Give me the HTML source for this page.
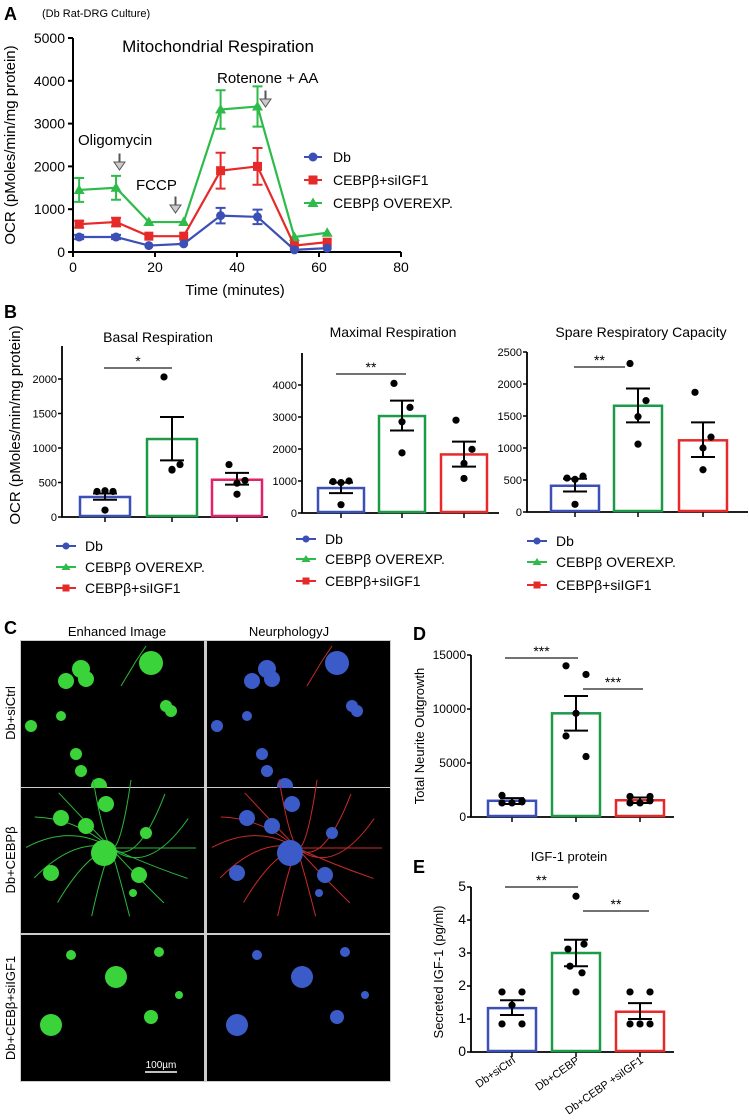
<!DOCTYPE html>
<html><head><meta charset="utf-8"><style>
html,body{margin:0;padding:0;background:#fff;width:749px;height:1120px;overflow:hidden}
svg{display:block;font-family:"Liberation Sans",sans-serif}
</style></head><body>
<svg id="fig" width="749" height="1120" viewBox="0 0 749 1120" xmlns="http://www.w3.org/2000/svg">
<g>
<text x="4" y="20" font-size="18" font-weight="bold">A</text>
<text x="42" y="17" font-size="11">(Db Rat-DRG Culture)</text>
<text x="218" y="52" font-size="17" text-anchor="middle">Mitochondrial Respiration</text>
<text x="15" y="145" font-size="15" text-anchor="middle" transform="rotate(-90 15 145)">OCR (pMoles/min/mg protein)</text>
<text x="235" y="295" font-size="15" text-anchor="middle">Time (minutes)</text>
<text x="78" y="145" font-size="15">Oligomycin</text>
<text x="136" y="190" font-size="15">FCCP</text>
<text x="217" y="83" font-size="15">Rotenone + AA</text>
<path d="M119 154v8h-5l5.5 8 5.5-8h-5v-8z" fill="#ccc" stroke="#555" stroke-width="1"/>
<path d="M175 197v8h-5l5.5 8 5.5-8h-5v-8z" fill="#ccc" stroke="#555" stroke-width="1"/>
<path d="M265 91v8h-5l5.5 8 5.5-8h-5v-8z" fill="#ccc" stroke="#555" stroke-width="1"/>
</g>
<g>
<text x="4" y="318" font-size="18" font-weight="bold">B</text>
<text x="20" y="425" font-size="15" text-anchor="middle" transform="rotate(-90 20 425)">OCR (pMoles/min/mg protein)</text>
</g>
<g>
<text x="4" y="634" font-size="18" font-weight="bold">C</text>
<text x="117" y="636" font-size="13" text-anchor="middle">Enhanced Image</text>
<text x="289" y="636" font-size="13" text-anchor="middle">NeurphologyJ</text>
<text x="15" y="713" font-size="13" text-anchor="middle" transform="rotate(-90 15 713)">Db+siCtrl</text>
<text x="15" y="860" font-size="13" text-anchor="middle" transform="rotate(-90 15 860)">Db+CEBPβ</text>
<text x="15" y="1008" font-size="13" text-anchor="middle" transform="rotate(-90 15 1008)">Db+CEBβ+siIGF1</text>
<rect x="20" y="640" width="371" height="442" fill="#ccc"/>
<g id="micro"></g>
</g>
<g>
<text x="413" y="640" font-size="18" font-weight="bold">D</text>
<text x="424" y="736" font-size="13" text-anchor="middle" transform="rotate(-90 424 736)">Total Neurite Outgrowth</text>
<text x="413" y="873" font-size="18" font-weight="bold">E</text>
<text x="569" y="861" font-size="13" text-anchor="middle">IGF-1 protein</text>
<text x="443" y="972" font-size="13" text-anchor="middle" transform="rotate(-90 443 972)">Secreted IGF-1 (pg/ml)</text>
</g>
</svg>
<script>
// ---- Panel A data ----
var timePoints = [1.5, 10.5, 18.5, 27, 36, 45, 54, 62];
var dbOCR = [350, 350, 150, 190, 850, 820, 50, 90];
var dbErr = [50, 50, 0, 0, 180, 170, 0, 0];
var siOCR = [650, 700, 370, 370, 1900, 2000, 150, 230];
var siErr = [80, 100, 0, 0, 420, 430, 0, 0];
var overOCR = [1450, 1500, 700, 700, 3330, 3400, 350, 450];
var overErr = [280, 280, 0, 0, 450, 470, 0, 0];
var aXTicks = [0, 20, 40, 60, 80];
var aYTicks = [0, 1000, 2000, 3000, 4000, 5000];
var aLegend = ["Db", "CEBPβ+siIGF1", "CEBPβ OVEREXP."];
// ---- Panel B data ----
var basalMeans = [290, 1130, 540];
var basalErrLo = [250, 820, 470];
var basalErrHi = [340, 1450, 640];
var basalPts = [[370, 370, 380, 100], [2030, 760, 680, 690], [760, 530, 490, 330]];
var maxMeans = [780, 3030, 1830];
var maxErrLo = [620, 2580, 1450];
var maxErrHi = [950, 3510, 2230];
var maxPts = [[980, 1000, 950, 260], [4050, 3300, 2850, 1880], [2900, 1990, 1550, 1080]];
var spareMeans = [410, 1660, 1120];
var spareErrLo = [320, 1400, 860];
var spareErrHi = [520, 1930, 1400];
var sparePts = [[530, 560, 510, 120], [2320, 1740, 1490, 1060], [1870, 1170, 1000, 660]];
var bLegend = ["Db", "CEBPβ OVEREXP.", "CEBPβ+siIGF1"];
// ---- Panel D data ----
var neuriteMeans = [1500, 9600, 1550];
var neuriteErrLo = [1200, 8000, 1300];
var neuriteErrHi = [1750, 11200, 1800];
var neuritePts = [[2000, 1500, 1300, 1300, 1400], [14000, 13200, 9600, 7500, 5600], [1900, 1500, 1300, 1300, 1900]];
// ---- Panel E data ----
var igfMeans = [1.33, 3.0, 1.22];
var igfErrLo = [1.12, 2.6, 1.0];
var igfErrHi = [1.57, 3.4, 1.48];
var igfPts = [[1.82, 1.82, 1.42, 0.85, 0.85], [4.72, 3.27, 3.12, 2.6, 2.4, 1.82], [1.82, 1.82, 0.85, 0.85, 0.85]];
var groupLabels = ["Db+siCtrl", "Db+CEBP", "Db+CEBP +siIGF1"];

var NS = "http://www.w3.org/2000/svg";
var svg = document.getElementById("fig");
function mk(tag, attrs, parent) {
  var e = document.createElementNS(NS, tag);
  for (var k in attrs) e.setAttribute(k, attrs[k]);
  (parent || svg).appendChild(e);
  return e;
}
var BLUE = "#3b4fb5", RED = "#e62a2a", GREEN = "#1d9a48", PINK = "#e3216b", LGREEN = "#2dbb4a";

// ---------- Panel A ----------
(function () {
  var g = mk("g", {});
  
  
  var X0 = 73, XS = 4.1, Y0 = 252, YS = 214 / 5000;
  function sx(v) { return X0 + v * XS; }
  function sy(v) { return Y0 - v * YS; }
  var ax = mk("path", { d: "M" + X0 + " " + sy(5000) + "V" + Y0 + "H" + sx(80), stroke: "#000", "stroke-width": 2, fill: "none" }, g);
  
  
  aXTicks.forEach(function (t) {
    var l = mk("line", { x1: sx(t), x2: sx(t), y1: Y0, y2: Y0 + 5, stroke: "#000", "stroke-width": 2 }, g);
    
    
    var tx = mk("text", { x: sx(t), y: Y0 + 20, "font-size": 14, "text-anchor": "middle" }, g);
    tx.textContent = t;
    
    
  });
  aYTicks.forEach(function (t) {
    var l = mk("line", { x1: X0 - 5, x2: X0, y1: sy(t), y2: sy(t), stroke: "#000", "stroke-width": 2 }, g);
    
    
    var tx = mk("text", { x: X0 - 8, y: sy(t) + 5, "font-size": 14, "text-anchor": "end" }, g);
    tx.textContent = t;
    
    
  });
  function marker(shape, x, y, col, parent) {
    var m;
    if (shape === "c") m = mk("circle", { cx: x, cy: y, r: 4.5, fill: col }, parent);
    else if (shape === "s") m = mk("rect", { x: x - 4.5, y: y - 4.5, width: 9, height: 9, fill: col }, parent);
    else m = mk("path", { d: "M" + x + " " + (y - 5.5) + "L" + (x + 5.5) + " " + (y + 4) + "L" + (x - 5.5) + " " + (y + 4) + "Z", fill: col }, parent);
    return m;
  }
  var series = [[overOCR, overErr, LGREEN, "t", "series-cebpb-overexp"], [siOCR, siErr, RED, "s", "series-cebpb-siigf1"], [dbOCR, dbErr, BLUE, "c", "series-db"]];
  series.forEach(function (s) {
    var sg = mk("g", {}, g);
    
    
    var d = s[0].map(function (v, i) { return (i ? "L" : "M") + sx(timePoints[i]) + " " + sy(v); }).join("");
    var ln = mk("path", { d: d, stroke: s[2], "stroke-width": 2.2, fill: "none" }, sg);
    
    
    s[0].forEach(function (v, i) {
      var x = sx(timePoints[i]);
      if (s[1][i] > 0) {
        var e = mk("path", { d: "M" + x + " " + sy(v - s[1][i]) + "V" + sy(v + s[1][i]) + "M" + (x - 5) + " " + sy(v - s[1][i]) + "h10M" + (x - 5) + " " + sy(v + s[1][i]) + "h10", stroke: s[2], "stroke-width": 2, fill: "none" }, sg);
        
        
      }
      var m = marker(s[3], x, sy(v), s[2], sg);
      
      
    });
  });
  var lcols = [BLUE, RED, LGREEN], lsh = ["c", "s", "t"];
  aLegend.forEach(function (name, i) {
    var y = 157 + i * 23;
    var lg = mk("g", {}, g);
    
    
    mk("line", { x1: 304, x2: 322, y1: y, y2: y, stroke: lcols[i], "stroke-width": 2 }, lg);
    marker(lsh[i], 313, y, lcols[i], lg);
    var t = mk("text", { x: 333, y: y + 5, "font-size": 14 }, lg);
    t.textContent = name;
  });
})();

// ---------- Generic bar chart ----------
function barChart(cfg) {
  var g = mk("g", {});
  
  
  function sy(v) { return cfg.y0 - v * cfg.ys; }
  var ax = mk("path", { d: "M" + cfg.x0 + " " + cfg.top + "V" + cfg.y0 + "H" + cfg.xEnd, stroke: "#000", "stroke-width": 1.8, fill: "none" }, g);
  
  
  cfg.ticks.forEach(function (t) {
    var l = mk("line", { x1: cfg.x0 - 4, x2: cfg.x0, y1: sy(t), y2: sy(t), stroke: "#000", "stroke-width": 1.5 }, g);
    
    
    var tx = mk("text", { x: cfg.x0 - 5, y: sy(t) + 4, "font-size": cfg.fs, "text-anchor": "end" }, g);
    tx.textContent = t;
    
    
  });
  cfg.means.forEach(function (m, i) {
    var cx = cfg.centers[i], col = cfg.colors[i];
    var tk = mk("line", { x1: cx, x2: cx, y1: cfg.y0, y2: cfg.y0 + 5, stroke: "#000", "stroke-width": 1.5 }, g);
    
    
    var b = mk("rect", { x: cx - cfg.hw, y: sy(m), width: cfg.hw * 2, height: cfg.y0 - sy(m) - 1, fill: "none", stroke: col, "stroke-width": 2.5 }, g);
    
    
    var e = mk("path", { d: "M" + cx + " " + sy(cfg.lo[i]) + "V" + sy(cfg.hi[i]) + "M" + (cx - 12) + " " + sy(cfg.lo[i]) + "h24M" + (cx - 12) + " " + sy(cfg.hi[i]) + "h24", stroke: "#000", "stroke-width": 2, fill: "none" }, g);
    
    
    var pts = cfg.pts[i], n = pts.length;
    pts.forEach(function (v, j) {
      var off = n === 4 ? [-8, 8, 0, 0][j] : (n === 5 ? [-10, 10, 0, -10, 10][j] : [0, 8, -8, -6, 6, 0][j]);
      var p = mk("circle", { cx: cx + off, cy: sy(v), r: 3.6, fill: "#000" }, g);
      
      
    });
  });
  (cfg.sig || []).forEach(function (s) {
    var l = mk("line", { x1: s[0], x2: s[1], y1: s[2], y2: s[2], stroke: "#444", "stroke-width": 1.5 }, g);
    
    
    var t = mk("text", { x: (s[0] + s[1]) / 2, y: s[2] - 2, "font-size": 14, "text-anchor": "middle" }, g);
    t.textContent = s[3];
    
    
  });
  if (cfg.title) {
    var tt = mk("text", { x: cfg.title[1], y: cfg.title[2], "font-size": 14, "text-anchor": "middle" }, g);
    tt.textContent = cfg.title[0];
    
    
  }
  if (cfg.legend) {
    var lc = [BLUE, LGREEN, RED], ls = ["c", "t", "s"];
    cfg.legend.names.forEach(function (nm, i) {
      var y = cfg.legend.ys[i], x = cfg.legend.x;
      var lg = mk("g", {}, g);
      
      
      mk("line", { x1: x, x2: x + 20, y1: y, y2: y, stroke: lc[i], "stroke-width": 2 }, lg);
      if (ls[i] === "c") mk("circle", { cx: x + 10, cy: y, r: 3.5, fill: lc[i] }, lg);
      else if (ls[i] === "s") mk("rect", { x: x + 6.5, y: y - 3.5, width: 7, height: 7, fill: lc[i] }, lg);
      else mk("path", { d: "M" + (x + 10) + " " + (y - 4) + "l4.5 7h-9z", fill: lc[i] }, lg);
      var t = mk("text", { x: x + 29, y: y + 5, "font-size": 14 }, lg);
      t.textContent = nm;
    });
  }
  return g;
}

barChart({ name: "basal-respiration-chart", x0: 62, y0: 517, ys: 0.069, top: 346, xEnd: 268, centers: [105, 172, 237], hw: 25,
  ticks: [0, 500, 1000, 1500, 2000], fs: 11, means: basalMeans, lo: basalErrLo, hi: basalErrHi, pts: basalPts,
  colors: [BLUE, GREEN, PINK], sig: [[104, 172, 368, "*"]], title: ["Basal Respiration", 158, 342],
  legend: { x: 56, ys: [546, 567, 588], names: bLegend } });
barChart({ name: "maximal-respiration-chart", x0: 302, y0: 513, ys: 0.032, top: 353, xEnd: 499, centers: [341, 402, 464], hw: 23,
  ticks: [0, 1000, 2000, 3000, 4000], fs: 11, means: maxMeans, lo: maxErrLo, hi: maxErrHi, pts: maxPts,
  colors: [BLUE, GREEN, RED], sig: [[336, 406, 374, "**"]], title: ["Maximal Respiration", 393, 337],
  legend: { x: 296, ys: [539, 559, 581], names: bLegend } });
barChart({ name: "spare-capacity-chart", x0: 527, y0: 512, ys: 0.064, top: 352, xEnd: 748, centers: [575, 638, 703], hw: 24,
  ticks: [0, 500, 1000, 1500, 2000, 2500], fs: 11, means: spareMeans, lo: spareErrLo, hi: spareErrHi, pts: sparePts,
  colors: [BLUE, GREEN, RED], sig: [[574, 625, 367, "**"]], title: ["Spare Respiratory Capacity", 641, 337],
  legend: { x: 527, ys: [541, 562, 585], names: bLegend } });
barChart({ name: "neurite-outgrowth-chart", x0: 471, y0: 817, ys: 0.0108, top: 655, xEnd: 674, centers: [512, 576, 640], hw: 24,
  ticks: [0, 5000, 10000, 15000], fs: 12, means: neuriteMeans, lo: neuriteErrLo, hi: neuriteErrHi, pts: neuritePts,
  colors: [BLUE, GREEN, RED], sig: [[505, 578, 658, "***"], [583, 643, 689, "***"]] });
var eg = barChart({ name: "igf1-protein-chart", x0: 471, y0: 1052, ys: 33, top: 887, xEnd: 674, centers: [512, 576, 640], hw: 24,
  ticks: [0, 1, 2, 3, 4, 5], fs: 14, means: igfMeans, lo: igfErrLo, hi: igfErrHi, pts: igfPts,
  colors: [BLUE, GREEN, RED], sig: [[505, 578, 887, "**"], [583, 649, 911, "**"]] });
[512, 576, 640].forEach(function (cx, i) {
  var t = mk("text", { x: cx + 4, y: 1062, "font-size": 11, "text-anchor": "end", transform: "rotate(-35 " + (cx + 4) + " 1062)" }, eg);
  t.textContent = groupLabels[i];
  
  
});

// ---------- Micrographs (decorative) ----------
(function () {
  var mg = document.getElementById("micro");
  var cols = [[21, 183], [207, 183]], rows = [[641, 146], [788, 145], [935, 146]];
  var cells = [
    [[130, 22, 12], [60, 28, 9], [65, 38, 8], [45, 40, 8], [145, 65, 6], [10, 85, 6], [55, 113, 6], [60, 130, 6], [78, 145, 8], [150, 70, 6], [40, 75, 5]],
    [[40, 30, 8], [30, 85, 8], [83, 65, 13], [65, 38, 8], [85, 16, 8], [125, 45, 6], [118, 87, 8], [112, 105, 4]],
    [[50, 20, 5], [95, 42, 11], [30, 90, 11], [130, 82, 7], [138, 17, 5], [158, 60, 4]]
  ];
  rows.forEach(function (r, ri) {
    cols.forEach(function (c, ci) {
      var cell = mk("g", {}, mg);
      
      
      mk("rect", { x: c[0], y: r[0], width: c[1], height: r[1], fill: "#000" }, cell);
      if (ri === 1) {
        var d = "";
        for (var k = 0; k < 14; k++) {
          var ang = k * 0.45;
          d += "M" + (c[0] + 90) + " " + (r[0] + 60) + "q" + (Math.cos(ang) * 40) + " " + (Math.sin(ang * 1.3) * 30) + " " + (Math.cos(ang) * 85) + " " + (Math.sin(ang) * 70);
        }
        mk("path", { d: d, stroke: ci ? "#c92a2a" : "#2cb83a", "stroke-width": 1, fill: "none" }, cell);
      }
      if (ri === 0) mk("path", { d: "M" + (c[0] + 100) + " " + (r[0] + 45) + "l15 -25 10 -15", stroke: ci ? "#c92a2a" : "#2cb83a", "stroke-width": 1, fill: "none" }, cell);
      cells[ri].forEach(function (s) {
        mk("circle", { cx: c[0] + s[0], cy: r[0] + s[1], r: s[2], fill: ci ? "#3b5cc8" : "#3ad43a" }, cell);
      });
    });
  });
  var sb = mk("line", { x1: 145, x2: 177, y1: 1072, y2: 1072, stroke: "#fff", "stroke-width": 1.5 }, mg);
  
  
  var st = mk("text", { x: 161, y: 1068, "font-size": 10, fill: "#fff", "text-anchor": "middle" }, mg);
  st.textContent = "100µm";
  
  
})();
</script>
</body></html>
